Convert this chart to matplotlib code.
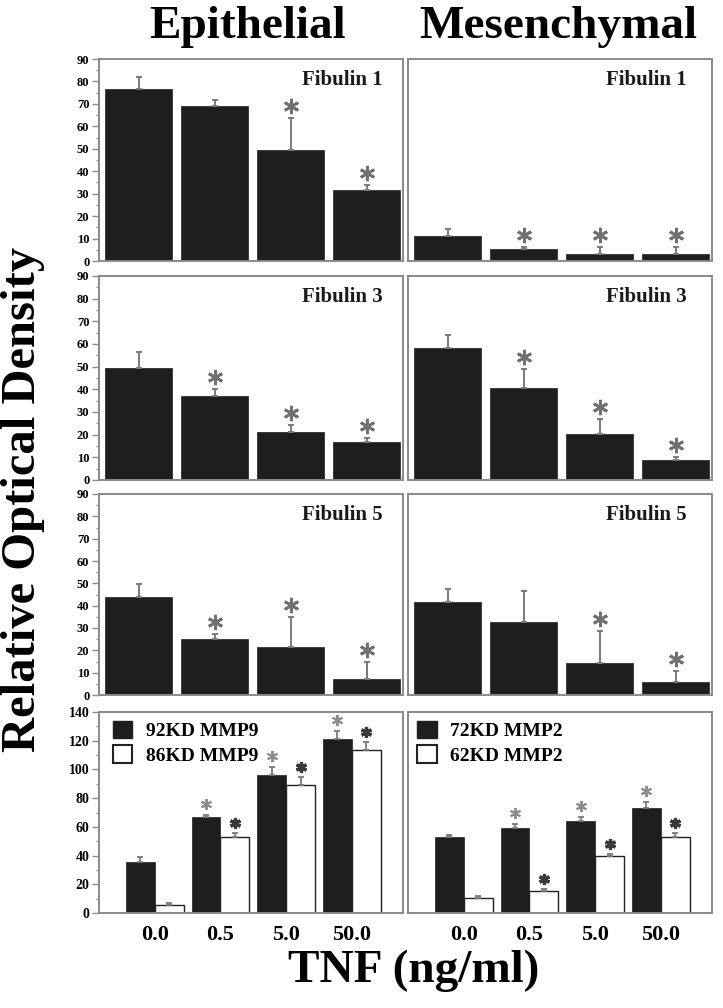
import numpy as np
import matplotlib
matplotlib.use("Agg")
import matplotlib.pyplot as plt
from matplotlib.patches import Patch
from matplotlib.transforms import ScaledTranslation

plt.rcParams['font.family'] = ['Liberation Serif', 'DejaVu Serif']
plt.rcParams['font.weight'] = 'bold'

# ---------------- data ----------------
conc_labels = ['0.0', '0.5', '5.0', '50.0']

epi_fib1 = [76.5, 69.0, 49.5, 31.8]
epi_fib1_err = [5.4, 2.8, 14.4, 2.1]
epi_fib1_sig = [0, 0, 1, 1]

mes_fib1 = [11.1, 5.3, 3.1, 3.1]
mes_fib1_err = [3.2, 1.1, 3.3, 3.3]
mes_fib1_sig = [0, 1, 1, 1]

epi_fib3 = [49.4, 37.0, 21.2, 16.8]
epi_fib3_err = [7.1, 3.0, 3.1, 1.7]
epi_fib3_sig = [0, 1, 1, 1]

mes_fib3 = [58.2, 40.6, 20.3, 8.8]
mes_fib3_err = [5.8, 8.4, 6.7, 1.3]
mes_fib3_sig = [0, 1, 1, 1]

epi_fib5 = [43.7, 25.1, 21.4, 7.2]
epi_fib5_err = [6.0, 2.2, 13.7, 7.7]
epi_fib5_sig = [0, 1, 1, 1]

mes_fib5 = [41.8, 32.8, 14.2, 5.7]
mes_fib5_err = [5.7, 13.8, 14.6, 5.2]
mes_fib5_sig = [0, 0, 1, 1]

epi_mmp9_92 = [35.3, 66.6, 96.1, 121.0]
epi_mmp9_92_err = [3.9, 1.6, 5.4, 6.0]
epi_mmp9_92_sig = [0, 1, 1, 1]
epi_mmp9_86 = [5.6, 52.7, 89.1, 113.5]
epi_mmp9_86_err = [1.1, 2.8, 5.8, 5.3]
epi_mmp9_86_sig = [0, 1, 1, 1]

mes_mmp2_72 = [53.1, 59.0, 64.3, 72.9]
mes_mmp2_72_err = [1.0, 3.0, 2.3, 4.6]
mes_mmp2_72_sig = [0, 1, 1, 1]
mes_mmp2_62 = [10.7, 15.3, 39.7, 53.1]
mes_mmp2_62_err = [1.4, 1.2, 1.2, 2.4]
mes_mmp2_62_sig = [0, 1, 1, 1]

# ---------------- style ----------------
BAR = '#1e1e1e'
ERR = '#7a7a7a'
SPINE = '#8a8a8a'
STAR = '#707070'

W, H = 723, 1008
fig = plt.figure(figsize=(W / 100, H / 100), dpi=100)

col_x = [99, 408]
col_w = 304
row_y = [(59, 261), (276, 480), (494, 695), (712, 913)]


def make_ax(col, row):
    x0 = col_x[col]
    top, bot = row_y[row]
    return fig.add_axes([x0 / W, 1 - bot / H, col_w / W, (bot - top) / H])


def style_ax(ax, show_y, ymax, step, minor):
    for s in ax.spines.values():
        s.set_color(SPINE)
        s.set_linewidth(1.4)
    ax.set_ylim(0, ymax)
    ax.set_xticks([])
    if show_y:
        ax.set_yticks(np.arange(0, ymax + 1, step))
        ax.set_yticks(np.arange(0, ymax + 1, minor), minor=True)
        ax.tick_params(axis='y', which='major', direction='out', length=5,
                       width=1, color=SPINE, labelsize=9, pad=2)
        ax.tick_params(axis='y', which='minor', direction='out', length=2.5,
                       width=0.8, color=SPINE)
        for t in ax.get_yticklabels():
            t.set_fontweight('bold')
    else:
        ax.set_yticks([])


def stars(ax, xs, tops, sig, dy_px, size, mew, color):
    tr = ax.transData + ScaledTranslation(0, dy_px / 100, fig.dpi_scale_trans)
    for x, t, s in zip(xs, tops, sig):
        if s:
            ax.plot([x], [t], marker=(6, 2, 0), ms=size, mew=mew, color=color,
                    transform=tr, clip_on=False, zorder=5)


def single_panel(ax, vals, errs, sig, title, show_y):
    x = np.arange(len(vals))
    ax.bar(x, vals, width=0.89, color=BAR, edgecolor=BAR, linewidth=0.5, zorder=2)
    ax.errorbar(x, vals, yerr=[np.zeros(len(errs)), errs], fmt='none',
                ecolor=ERR, elinewidth=1.4, capsize=2.5, capthick=1.4, zorder=3)
    ax.set_xlim(-0.52, 3.48)
    style_ax(ax, show_y, 90, 10, 5)
    tops = np.array(vals) + np.array(errs)
    stars(ax, x, tops, sig, 12, 11, 2.0, STAR)
    ax.text(0.934 if show_y else 0.918, 0.895, title, transform=ax.transAxes,
            ha='right', va='center', fontsize=15, fontweight='bold',
            color='#1a1a1a')


def grouped_panel(ax, v1, e1, s1, v2, e2, s2, labels, show_y):
    x = np.arange(len(v1))
    w = 0.44
    ax.bar(x - w / 2, v1, width=w, color=BAR, edgecolor=BAR, linewidth=0.5,
           zorder=2, label=labels[0])
    ax.bar(x + w / 2, v2, width=w, color='white', edgecolor='#222222',
           linewidth=1.0, zorder=2, label=labels[1])
    ax.errorbar(x - w / 2, v1, yerr=[np.zeros(len(e1)), e1], fmt='none',
                ecolor=ERR, elinewidth=1.3, capsize=2, capthick=1.3, zorder=3)
    ax.errorbar(x + w / 2, v2, yerr=[np.zeros(len(e2)), e2], fmt='none',
                ecolor=ERR, elinewidth=1.3, capsize=2, capthick=1.3, zorder=3)
    ax.set_xlim(-0.85, 3.78)
    style_ax(ax, show_y, 140, 20, 10)
    if show_y:
        ax.tick_params(axis='y', which='major', labelsize=10)
    ax.set_xticks(x)
    ax.set_xticklabels(conc_labels, fontsize=16, fontweight='bold')
    ax.tick_params(axis='x', length=0, pad=9)
    stars(ax, x - w / 2, np.array(v1) + np.array(e1), s1, 11, 8, 1.4, '#8c8c8c')
    stars(ax, x + w / 2, np.array(v2) + np.array(e2), s2, 10, 8, 2.3, '#3a3a3a')
    handles = [Patch(facecolor=BAR, edgecolor=BAR),
               Patch(facecolor='white', edgecolor='#222222', linewidth=1.5)]
    ax.legend(handles, labels, loc='upper left',
              bbox_to_anchor=(0.045 if show_y else 0.03, 0.955),
              frameon=False, handlelength=1.0, handleheight=1.0,
              handletextpad=0.7, labelspacing=0.25, borderaxespad=0,
              borderpad=0, prop={'size': 14, 'weight': 'bold'})


panels = [
    (epi_fib1, epi_fib1_err, epi_fib1_sig, mes_fib1, mes_fib1_err, mes_fib1_sig, 'Fibulin 1'),
    (epi_fib3, epi_fib3_err, epi_fib3_sig, mes_fib3, mes_fib3_err, mes_fib3_sig, 'Fibulin 3'),
    (epi_fib5, epi_fib5_err, epi_fib5_sig, mes_fib5, mes_fib5_err, mes_fib5_sig, 'Fibulin 5'),
]
for r, (ev, ee, es, mv, me, ms_, title) in enumerate(panels):
    single_panel(make_ax(0, r), ev, ee, es, title, True)
    single_panel(make_ax(1, r), mv, me, ms_, title, False)

grouped_panel(make_ax(0, 3), epi_mmp9_92, epi_mmp9_92_err, epi_mmp9_92_sig,
              epi_mmp9_86, epi_mmp9_86_err, epi_mmp9_86_sig,
              ['92KD MMP9', '86KD MMP9'], True)
grouped_panel(make_ax(1, 3), mes_mmp2_72, mes_mmp2_72_err, mes_mmp2_72_sig,
              mes_mmp2_62, mes_mmp2_62_err, mes_mmp2_62_sig,
              ['72KD MMP2', '62KD MMP2'], False)

fig.text(248 / W, 1 - 27 / H, 'Epithelial', ha='center', va='center',
         fontsize=34, fontweight='bold')
fig.text(558 / W, 1 - 27 / H, 'Mesenchymal', ha='center', va='center',
         fontsize=34, fontweight='bold')
fig.text(23 / W, 1 - 499 / H, 'Relative Optical Density', rotation=90,
         ha='center', va='center', fontsize=35, fontweight='bold')
fig.text(414 / W, 1 - 971 / H, 'TNF (ng/ml)', ha='center', va='center',
         fontsize=34, fontweight='bold')

fig.savefig('out.png', dpi=100)
